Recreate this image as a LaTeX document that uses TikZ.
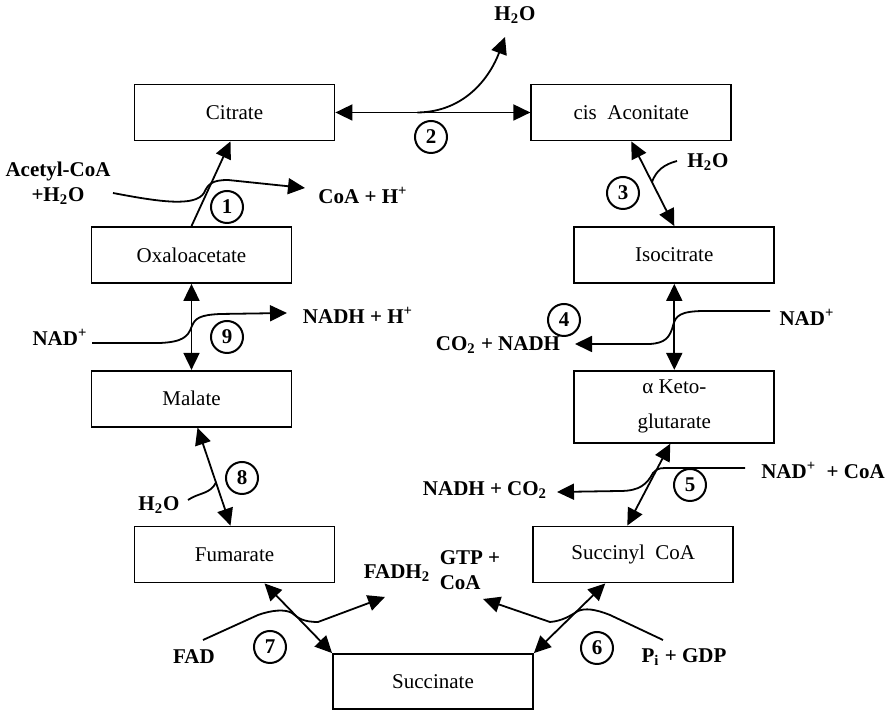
\documentclass[tikz,border=0pt]{standalone}
\usepackage{fontspec}
\setmainfont{Liberation Serif}
\usepackage{tikz}
\usetikzlibrary{arrows.meta}
\usetikzlibrary{calc}
\usetikzlibrary{positioning}

\newcommand{\wat}{H\textsubscript{2}O}
\newcommand{\plus}{\textsuperscript{+}}

\begin{document}
\begin{tikzpicture}[x=0.5pt, y=0.5pt, >={Triangle[length=8.5pt,width=8pt]},
	line width=0.9pt, font=\fontsize{10.5}{12.5}\selectfont,
	main node/.style={rectangle, draw, minimum width=100pt, minimum height=28pt, align=center},
	side node/.style={font=\fontsize{10.5}{12.5}\selectfont\bfseries, align=center, inner sep=1pt},
	num node/.style={circle, draw, minimum size=16pt, inner sep=0pt, line width=1pt, font=\fontsize{10.5}{12.5}\selectfont\bfseries},
]
\useasboundingbox (0,0) rectangle (891,712);
\node [main node] (citrate) at (234.5,599.5) {Citrate};
\node [main node] (cisacon) [right=97.5pt of citrate] {cis\enspace Aconitate};
\node [main node] (oxalo) at (191.5,457) {Oxaloacetate};
\node [main node] (isocit) [right=140.5pt of oxalo] {Isocitrate};
\node [main node] (malate) [below=43pt of oxalo] {Malate};
\node [main node, minimum height=36pt] (akg) [below=43pt of isocit] {α Keto-\\[5pt]glutarate};
\node [main node] (fumarate) at (234.5,157.5) {Fumarate};
\node [main node] (succoa) [right=98.5pt of fumarate] {Succinyl\enspace CoA};
\node [main node, minimum height=27.5pt] (succinate) at (433,30.5) {Succinate};
%
\node [num node] (n1) at (227,505) {1};
\node [num node] (n2) at (431,575) {2};
\node [num node] (n3) at (623,519) {3};
\node [num node] (n4) at (564,392) {4};
\node [num node] (n5) at (690,227) {5};
\node [num node] (n6) at (597,64) {6};
\node [num node] (n7) at (270,65) {7};
\node [num node] (n8) at (242,234) {8};
\node [num node] (n9) at (227,375) {9};
%
\node [side node] (h2otop) at (515,697) {\wat};
\node [side node] (acoa) at (58,529) {Acetyl-CoA\\+\wat};
\node [side node] (coah) at (363,517) {CoA + H\plus};
\node [side node] (h2othree) at (708,550) {\wat};
\node [side node] (nadl) at (60,375) {NAD\plus};
\node [side node] (nadhh) at (358,397) {NADH + H\plus};
\node [side node] (co2nadh) at (498,367) {CO\textsubscript{2} + NADH};
\node [side node] (nadr) at (807,395) {NAD\plus};
\node [side node] (nadcoa) at (823,242) {NAD\plus\enspace + CoA};
\node [side node] (nadhco2) at (485,222) {NADH + CO\textsubscript{2}};
\node [side node] (h2oeight) at (159,207) {\wat};
\node [side node] (fadh2) at (397,139) {FADH\textsubscript{2}};
\node [side node, align=left] (gtp) at (470,142) {GTP +\\CoA};
\node [side node] (fad) at (194,55) {FAD};
\node [side node] (pigdp) at (684,55) {P\textsubscript{i} + GDP};
%
\coordinate (r1s) at (113,519);
\coordinate (r1e) at (305,524);
\coordinate (r2s) at ($(citrate.east)!0.42!(cisacon.west)$);
\coordinate (r2e) at (505,675);
\coordinate (r3s) at (677,551);
\coordinate (r4s) at (770,401);
\coordinate (r4e) at (575,368);
\coordinate (r5s) at (745,244);
\coordinate (r5e) at (557,220);
\coordinate (r6s) at (663,72);
\coordinate (r6e) at (483,113);
\coordinate (r7s) at (203,72);
\coordinate (r7e) at (385,115);
\coordinate (r8s) at (188,212);
\coordinate (r9s) at (92,369);
\coordinate (r9e) at (287,399);
%
\draw [->] (oxalo.north) -- ([xshift=-2pt]citrate.south);
\draw [->] (r1s) .. controls (160,510) and (195,505) .. (204,519) .. controls (208,528) and (212,532) .. (228,532) -- (r1e);
\draw [<->] (citrate) -- (cisacon);
\draw [->] (r2s) .. controls (465,600) and (490,635) .. (r2e);
\draw [<->] (cisacon.south) -- (isocit.north);
\draw (r3s) to[out=195,in=70] ($(cisacon.south)!0.48!(isocit.north)$);
\draw [<->] (isocit) -- (akg);
\draw [->] (r4s) -- (705,401) .. controls (680,401) and (676,396) .. (673.5,388) .. controls (670,374) and (665,369) .. (650,368) -- (r4e);
\draw [<->] ([xshift=-2pt]akg.south) -- ([xshift=-3pt]succoa.north);
\draw [->] (r5s) -- (665,244) .. controls (658,244) and (656,242) .. (653,239) .. controls (647,228) and (640,221) .. (620,221) -- (r5e);
\draw [<->] ([xshift=-14pt]succoa.south) -- (succinate.north east);
\draw [->] (r6s) -- (610,97) .. controls (595,103) and (585,104) .. (578,101) .. controls (570,96) and (562,91) .. (550,90) -- (r6e);
\draw [<->] ([xshift=15pt]fumarate.south) -- (succinate.north west);
\draw [->] (r7s) -- (258,97) .. controls (272,102) and (285,103) .. (292,99) .. controls (298,94) and (303,90) .. (318,90) -- (r7e);
\draw [<->] ([xshift=3pt]malate.south) -- ([xshift=-2pt]fumarate.north);
\draw (r8s) to[out=35,in=245] ($([xshift=3pt]malate.south)!0.56!([xshift=-2pt]fumarate.north)$);
\draw [<->] (oxalo) -- (malate);
\draw [->] (r9s) -- (160,369) .. controls (182,370) and (188,375) .. (191.5,385) .. controls (195,394) and (200,397) .. (220,398) -- (r9e);
\end{tikzpicture}
\end{document}
